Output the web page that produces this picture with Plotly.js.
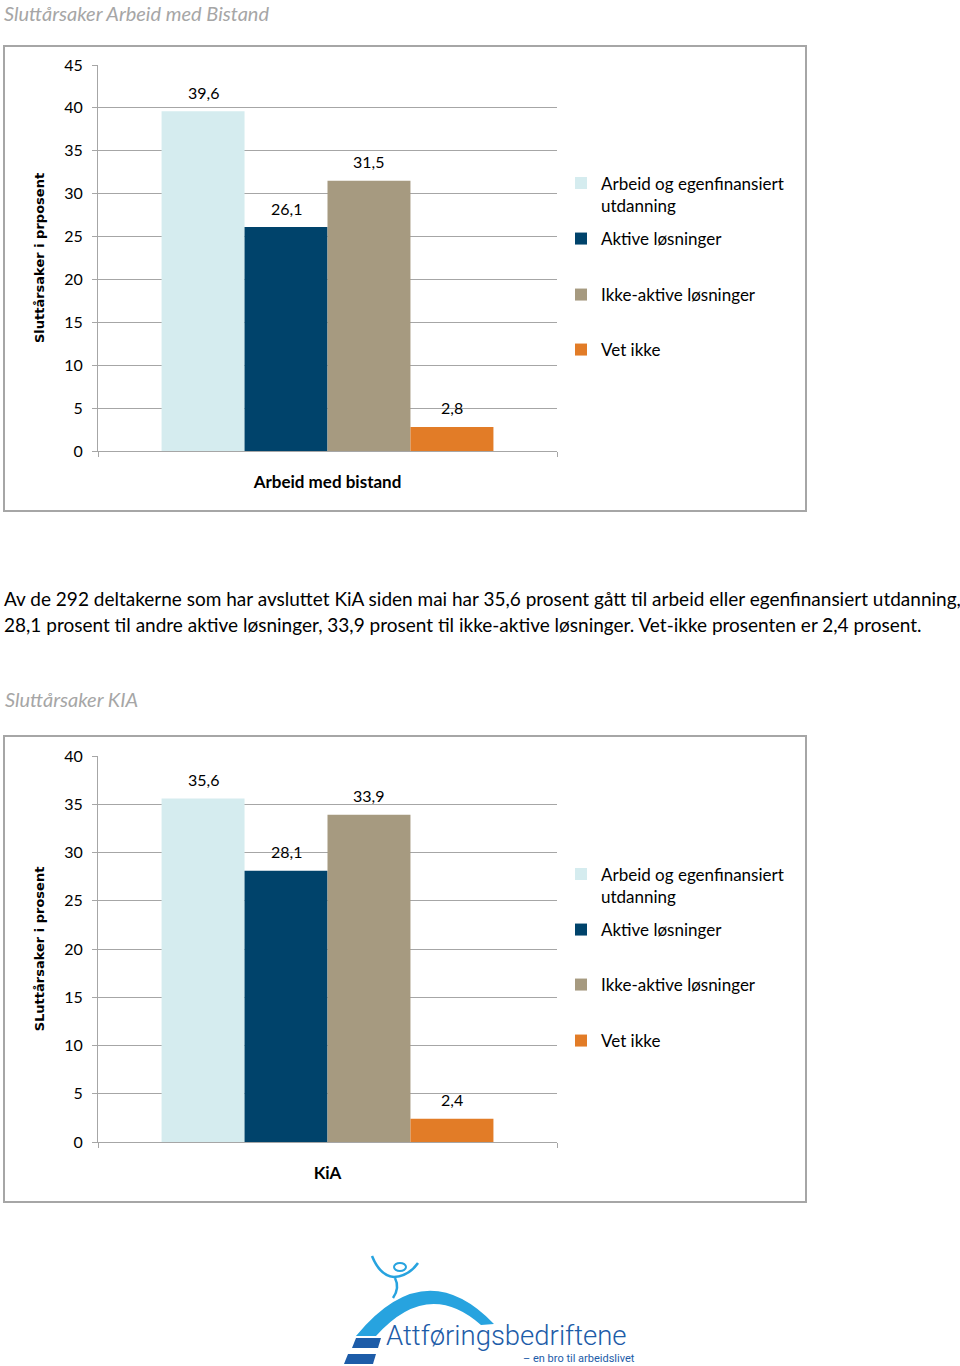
<!DOCTYPE html>
<html>
<head>
<meta charset="utf-8">
<script src="https://cdn.plot.ly/plotly-3.0.1.min.js"></script>
<style>
html,body{margin:0;padding:0;background:#fff;}
#chart{width:960px;height:1366px;}
</style>
</head>
<body>
<div id="chart"></div>
<script>
// ---- data ----
const categories1 = ['Arbeid med bistand'];
const categories2 = ['KiA'];
const seriesNames = ['Arbeid og egenfinansiert<br>utdanning', 'Aktive løsninger', 'Ikke-aktive løsninger', 'Vet ikke'];
const values1 = [39.6, 26.1, 31.5, 2.8];
const values2 = [35.6, 28.1, 33.9, 2.4];
const seriesColors = ['#d5ecef', '#00436b', '#a69a80', '#e27c27'];
const yTicks1 = [0, 5, 10, 15, 20, 25, 30, 35, 40, 45];
const yTicks2 = [0, 5, 10, 15, 20, 25, 30, 35, 40];
const title1 = 'Sluttårsaker Arbeid med Bistand';
const title2 = 'Sluttårsaker KIA';
const yTitle1 = 'Sluttårsaker i prposent';
const yTitle2 = 'SLuttårsaker i prosent';
const paragraph1 = 'Av de 292 deltakerne som har avsluttet KiA siden mai har 35,6 prosent gått til arbeid eller egenfinansiert utdanning,';
const paragraph2 = '28,1 prosent til andre aktive løsninger, 33,9 prosent til ikke-aktive løsninger. Vet-ikke prosenten er 2,4 prosent.';
const logoName = 'Attføringsbedriftene';
const logoTagline = '– en bro til arbeidslivet';

// ---- page geometry helpers (pixels -> paper) ----
const W = 960, H = 1366;
const PX = x => x / W;
const PY = y => 1 - y / H;
function path(cmds) {
  return cmds.map(c => {
    const op = c[0];
    const nums = c.slice(1);
    const parts = [];
    for (let i = 0; i < nums.length; i += 2) parts.push(PX(nums[i]).toFixed(5) + ',' + PY(nums[i + 1]).toFixed(5));
    return op + parts.join(' ');
  }).join(' ');
}

const FONT = 'Lato, "Open Sans", sans-serif';
const GRID = '#a6a6a6';
const BARGAP = 0.277;

const traces = [];
const labelAnnotations = [];
function addChart(cats, vals, xa, ya, legendOffset) {
  const groupW = 1 - BARGAP;
  vals.forEach((v, i) => {
    traces.push({
      type: 'bar',
      x: cats,
      y: [v],
      name: seriesNames[i],
      marker: {color: seriesColors[i], line: {width: 0}},
      xaxis: xa, yaxis: ya,
      legend: (legendOffset + i) === 1 ? 'legend' : 'legend' + (legendOffset + i),
      hoverinfo: 'skip'
    });
    // value label above each bar, placed through the axes from the data value
    labelAnnotations.push({
      xref: xa, yref: ya,
      x: -groupW / 2 + (i + 0.5) * groupW / vals.length,
      y: v, yanchor: 'middle', yshift: 19, showarrow: false,
      text: v.toFixed(1).replace('.', ','),
      font: {family: FONT, size: 16, color: '#000'}
    });
  });
}
addChart(categories1, values1, 'x', 'y', 1);
addChart(categories2, values2, 'x2', 'y2', 5);

function xAxis(anchor) {
  return {
    anchor: anchor, domain: [PX(98), PX(557)], type: 'category', range: [-0.5, 0.5],
    showline: true, linecolor: GRID, linewidth: 1,
    ticks: 'outside', tickson: 'boundaries', ticklen: 5, tickcolor: GRID,
    showgrid: false, zeroline: false, fixedrange: true,
    tickfont: {family: FONT, size: 17, color: '#000', weight: 'bold'},
    ticklabelstandoff: 16
  };
}
function yAxis(anchor, dom, maxv, ticks, title) {
  return {
    anchor: anchor, domain: dom, range: [0, maxv], tickvals: ticks,
    showline: true, linecolor: GRID, linewidth: 1,
    ticks: 'outside', ticklen: 5, tickcolor: GRID,
    showgrid: true, gridcolor: GRID, gridwidth: 1, zeroline: false, fixedrange: true,
    tickfont: {family: FONT, size: 16, color: '#000'},
    ticklabelstandoff: 6,
    title: {text: title, font: {family: '"DejaVu Sans", sans-serif', size: 13, color: '#000', weight: 'bold'}, standoff: 16}
  };
}

const legendYs = [194.5, 239, 295, 350, 885.5, 930, 985, 1041];
const layout = {
  width: W, height: H,
  margin: {l: 0, r: 0, t: 0, b: 0},
  paper_bgcolor: '#fff', plot_bgcolor: 'rgba(0,0,0,0)',
  separators: ', ',
  barmode: 'group', bargap: BARGAP, bargroupgap: 0,
  showlegend: true,
  font: {family: FONT, size: 16, color: '#000'},
  xaxis: xAxis('y'),
  yaxis: yAxis('x', [PY(451), PY(65)], 45, yTicks1, yTitle1),
  xaxis2: xAxis('y2'),
  yaxis2: yAxis('x2', [PY(1142), PY(756)], 40, yTicks2, yTitle2),
  shapes: [
    {type: 'rect', xref: 'paper', yref: 'paper', x0: PX(4), x1: PX(806), y0: PY(46), y1: PY(511), line: {color: '#a6a6a6', width: 2}, fillcolor: 'rgba(0,0,0,0)', layer: 'below'},
    {type: 'rect', xref: 'paper', yref: 'paper', x0: PX(4), x1: PX(806), y0: PY(736), y1: PY(1202), line: {color: '#a6a6a6', width: 2}, fillcolor: 'rgba(0,0,0,0)', layer: 'below'},
    // logo: arch
    {type: 'path', xref: 'paper', yref: 'paper', fillcolor: '#27a3df', line: {width: 0},
      path: path([['M', 356, 1336], ['Q', 425, 1252, 494, 1324], ['L', 481, 1325], ['Q', 428, 1278, 376, 1336], ['Z']])},
    // logo: stripes
    {type: 'path', xref: 'paper', yref: 'paper', fillcolor: '#1d5ca8', line: {width: 0},
      path: path([['M', 356, 1338], ['L', 381, 1338], ['L', 378, 1348], ['L', 352, 1348], ['Z']])},
    {type: 'path', xref: 'paper', yref: 'paper', fillcolor: '#1d5ca8', line: {width: 0},
      path: path([['M', 348, 1354], ['L', 376, 1354], ['L', 373, 1364], ['L', 344, 1364], ['Z']])},
    // logo: person
    {type: 'circle', xref: 'paper', yref: 'paper', x0: PX(394), x1: PX(406), y0: PY(1263), y1: PY(1271), line: {color: '#27a3df', width: 2}, fillcolor: 'rgba(0,0,0,0)'},
    {type: 'path', xref: 'paper', yref: 'paper', line: {color: '#27a3df', width: 2.5}, fillcolor: 'rgba(0,0,0,0)',
      path: path([['M', 372, 1256], ['Q', 380, 1276, 394, 1277], ['Q', 409, 1276, 418, 1263]])},
    {type: 'path', xref: 'paper', yref: 'paper', line: {color: '#27a3df', width: 2.5}, fillcolor: 'rgba(0,0,0,0)',
      path: path([['M', 395, 1278], ['Q', 400, 1288, 393, 1298]])}
  ],
  annotations: labelAnnotations.concat([
    {xref: 'paper', yref: 'paper', x: PX(3), y: PY(0), xanchor: 'left', yanchor: 'top', borderpad: 0, showarrow: false,
      text: title1, font: {family: FONT, size: 20, color: '#a6a6a6', style: 'italic'}},
    {xref: 'paper', yref: 'paper', x: PX(3), y: PY(699), xanchor: 'left', yanchor: 'middle', showarrow: false,
      text: title2, font: {family: FONT, size: 20, color: '#a6a6a6', style: 'italic'}},
    {xref: 'paper', yref: 'paper', x: PX(2), y: PY(599), xanchor: 'left', yanchor: 'middle', showarrow: false,
      text: paragraph1, font: {family: FONT, size: 19, color: '#000'}},
    {xref: 'paper', yref: 'paper', x: PX(2), y: PY(624), xanchor: 'left', yanchor: 'middle', showarrow: false,
      text: paragraph2, font: {family: FONT, size: 19, color: '#000'}},
    {xref: 'paper', yref: 'paper', x: PX(385), y: PY(1335), xanchor: 'left', yanchor: 'middle', borderpad: 0, showarrow: false,
      text: logoName, font: {family: 'Roboto, sans-serif', size: 27.5, color: '#1d5ca8', weight: 300}},
    {xref: 'paper', yref: 'paper', x: PX(636), y: PY(1366), xanchor: 'right', yanchor: 'bottom', showarrow: false, borderpad: 0,
      text: logoTagline, font: {family: 'Roboto, sans-serif', size: 11, color: '#1d5ca8'}}
  ])
};
legendYs.forEach((y, i) => {
  const key = i === 0 ? 'legend' : 'legend' + (i + 1);
  layout[key] = {
    x: PX(561), xanchor: 'left', y: PY(y), yanchor: 'middle',
    bgcolor: 'rgba(0,0,0,0)', borderwidth: 0, valign: 'top',
    font: {family: FONT, size: 17, color: '#000'}
  };
});

Plotly.newPlot('chart', traces, layout, {staticPlot: true, displayModeBar: false});
</script>
</body>
</html>
